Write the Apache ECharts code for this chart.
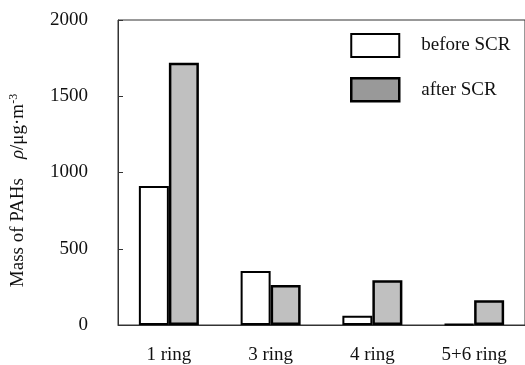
<!DOCTYPE html>
<html><head><meta charset="utf-8">
<script src="https://cdn.jsdelivr.net/npm/echarts@6/dist/echarts.min.js"></script>
<style>html,body{margin:0;padding:0;background:#fff}#c{width:525px;height:365px}</style>
</head><body><div id="c"></div>
<script>
const categories = ['1 ring', '3 ring', '4 ring', '5+6 ring'];
const beforeSCR = [912, 354, 60, 5];
const afterSCR = [1720, 263, 293, 163];
const yTicks = [0, 500, 1000, 1500, 2000];
const seriesNames = ['before SCR', 'after SCR'];

const FONT = '"Liberation Serif", "Times New Roman", serif';
const chart = echarts.init(document.getElementById('c'));
chart.setOption({
  animation: false,
  backgroundColor: '#fff',
  grid: { left: 117, right: -4, top: 20, bottom: 37, show: true, borderColor: '#333', borderWidth: 1 },
  legend: {
    orient: 'vertical', left: 345, top: 28, itemWidth: 48, itemHeight: 23, itemGap: 19,
    icon: 'rect',
    textStyle: { fontFamily: FONT, fontSize: 19, color: '#111', padding: [0, 0, 0, 17] },
    data: [
      { name: seriesNames[0], itemStyle: { color: '#fff', borderColor: '#000', borderWidth: 2 } },
      { name: seriesNames[1], itemStyle: { color: '#999', borderColor: '#000', borderWidth: 2.5 } }
    ]
  },
  xAxis: {
    type: 'category', data: categories,
    axisLine: { lineStyle: { color: '#333', width: 1 } },
    axisTick: { inside: true, length: 5, lineStyle: { color: '#333' } },
    axisLabel: { fontFamily: FONT, fontSize: 19, color: '#111', margin: 21 }
  },
  yAxis: {
    type: 'value', min: yTicks[0], max: yTicks[yTicks.length - 1], interval: 500,
    splitLine: { show: false },
    axisLine: { show: true, lineStyle: { color: '#333', width: 1 } },
    axisTick: { show: true, inside: true, length: 5, lineStyle: { color: '#333' } },
    axisLabel: { fontFamily: FONT, fontSize: 19, color: '#111', margin: 30, formatter: v => String(v) },
    name: '{a|Mass of PAHs}{sp|    }{i|ρ}{a|/μg·m}{s|-3}',
    nameLocation: 'middle', nameRotate: 90, nameGap: 90,
    nameTextStyle: {
      fontFamily: FONT, fontSize: 19, color: '#111', padding: [0, 36, 0, 0],
      rich: {
        a: { fontFamily: FONT, fontSize: 19, color: '#111' },
        sp: { fontFamily: FONT, fontSize: 19 },
        i: { fontFamily: FONT, fontSize: 19, fontStyle: 'italic', color: '#111' },
        s: { fontFamily: FONT, fontSize: 12, color: '#111', verticalAlign: 'top', padding: [0, 0, 8, 0] }
      }
    }
  },
  series: [
    { name: seriesNames[0], type: 'bar', data: beforeSCR, barWidth: 30, barGap: '0%',
      itemStyle: { color: '#fff', borderColor: '#000', borderWidth: 2 } },
    { name: seriesNames[1], type: 'bar', data: afterSCR, barWidth: 30, barGap: '0%',
      itemStyle: { color: '#c0c0c0', borderColor: '#000', borderWidth: 2.5 } }
  ]
});
</script></body></html>
